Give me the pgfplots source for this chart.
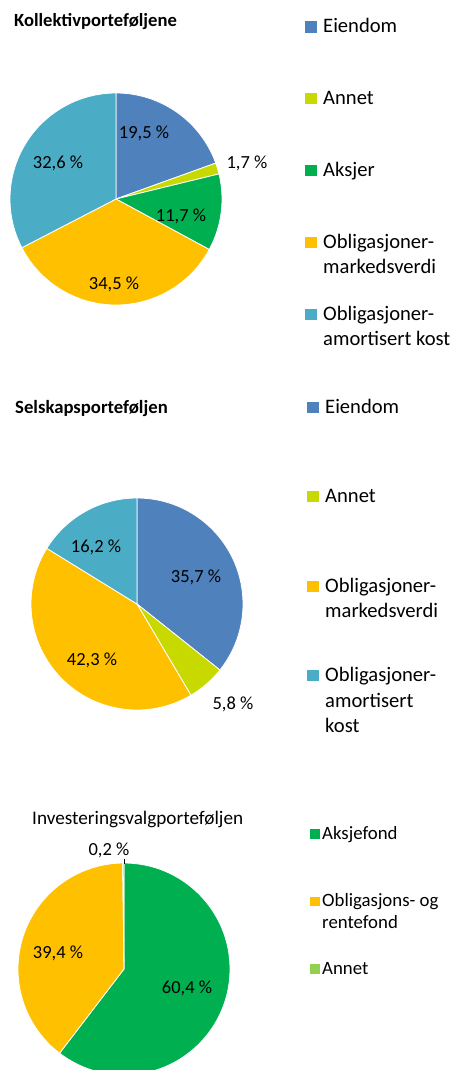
\documentclass[border=0pt]{standalone}
\usepackage{pgfplots}
\pgfplotsset{compat=1.18}
\usepackage{fontspec}
\setmainfont{Carlito}
\definecolor{cblue}{HTML}{4F81BD}
\definecolor{cannet}{HTML}{C8D900}
\definecolor{cgreen}{HTML}{00B050}
\definecolor{cyellow}{HTML}{FFC000}
\definecolor{cteal}{HTML}{4BACC6}
\definecolor{clight}{HTML}{92D050}
% slice: #1 = cumulative share before (%), #2 = share (%), #3 = colour
\newcommand{\slice}[3]{%
  \fill[#3,draw=white,line width=0.8bp] (axis cs:0,0) -- ++({90-3.6*#1}:106bp)
    arc[start angle={90-3.6*#1}, end angle={90-3.6*(#1+#2)}, radius=106bp] -- cycle;}
\pgfplotsset{pie/.style={hide axis, scale only axis, width=254.4bp, height=254.4bp,
  xmin=-1.2, xmax=1.2, ymin=-1.2, ymax=1.2, anchor=center, clip=false}}
\newcommand{\leg}[4]{% x, y baseline, colour, text
  \fill[#3] (#1bp,-#2bp) rectangle ++(11.5bp,11.5bp);
  \node[anchor=base west,inner sep=0pt,font=\fontsize{20.6bp}{26bp}\selectfont] at (#1bp+18bp,-#2bp) {#4};}
\newcommand{\legl}[3]{% x, y baseline, text (continuation line)
  \node[anchor=base west,inner sep=0pt,font=\fontsize{20.6bp}{26bp}\selectfont] at (#1bp+18bp,-#2bp) {#3};}
\newcommand{\lab}[3]{\node[anchor=base,inner sep=0pt,font=\fontsize{18.5bp}{22bp}\selectfont] at (#1bp,-#2bp) {#3};}
\begin{document}
\begin{tikzpicture}
\useasboundingbox (0,0) rectangle (457bp,-1070bp);
\clip (0,0) rectangle (457bp,-1070bp);
% ---------- Kollektivporteføljene ----------
\node[anchor=base west,inner sep=0pt,font=\fontsize{18.6bp}{22bp}\selectfont\bfseries] at (14bp,-26.7bp) {Kollektivporteføljene};
\begin{axis}[pie, at={(116bp,-199bp)}]
\slice{0}{19.5}{cblue}
\slice{19.5}{1.7}{cannet}
\slice{21.2}{11.7}{cgreen}
\slice{32.9}{34.5}{cyellow}
\slice{67.4}{32.6}{cteal}
\end{axis}
\lab{144}{138}{19,5 \%}
\lab{247}{168}{1,7 \%}
\lab{181}{221}{11,7 \%}
\lab{114}{289}{34,5 \%}
\lab{58}{168}{32,6 \%}
\leg{305}{32.7}{cblue}{Eiendom}
\leg{305}{104.3}{cannet}{Annet}
\leg{305}{176}{cgreen}{Aksjer}
\leg{305}{248.3}{cyellow}{Obligasjoner-}
\legl{305}{273.5}{markedsverdi}
\leg{305}{320}{cteal}{Obligasjoner-}
\legl{305}{345}{amortisert kost}
% ---------- Selskapsporteføljen ----------
\node[anchor=base west,inner sep=0pt,font=\fontsize{18.7bp}{22bp}\selectfont\bfseries] at (15bp,-413bp) {Selskapsporteføljen};
\begin{axis}[pie, at={(137bp,-604bp)}]
\slice{0}{35.7}{cblue}
\slice{35.7}{5.8}{cannet}
\slice{41.5}{42.3}{cyellow}
\slice{83.8}{16.2}{cteal}
\end{axis}
\lab{196}{582}{35,7 \%}
\lab{233}{709}{5,8 \%}
\lab{92}{665}{42,3 \%}
\lab{96}{552}{16,2 \%}
\leg{307}{413}{cblue}{Eiendom}
\leg{307}{502}{cannet}{Annet}
\leg{307}{592}{cyellow}{Obligasjoner-}
\legl{307}{617}{markedsverdi}
\leg{307}{681}{cteal}{Obligasjoner-}
\legl{307}{707}{amortisert}
\legl{307}{732.5}{kost}
% ---------- Investeringsvalgporteføljen ----------
\node[anchor=base west,inner sep=0pt,font=\fontsize{19.2bp}{23bp}\selectfont] at (32bp,-824bp) {Investeringsvalgporteføljen};
\begin{axis}[pie, at={(124bp,-969bp)}]
\slice{0}{60.4}{cgreen}
\slice{60.4}{39.4}{cyellow}
\slice{99.8}{0.2}{clight}
\end{axis}
\draw[black,line width=0.8bp] (124bp,-858.5bp) -- (124bp,-864bp);
\lab{109}{855}{0,2 \%}
\lab{58}{958}{39,4 \%}
\lab{187}{993}{60,4 \%}
\begin{scope}[font=\fontsize{18.8bp}{22.5bp}\selectfont]
\fill[cgreen] (310bp,-838.5bp) rectangle ++(9.5bp,9.5bp);
\node[anchor=base west,inner sep=0pt] at (322bp,-839bp) {Aksjefond};
\fill[cyellow] (310bp,-906.2bp) rectangle ++(9.5bp,9.5bp);
\node[anchor=base west,inner sep=0pt] at (322bp,-906.7bp) {Obligasjons- og};
\node[anchor=base west,inner sep=0pt] at (322bp,-928.5bp) {rentefond};
\fill[clight] (310bp,-973.5bp) rectangle ++(9.5bp,9.5bp);
\node[anchor=base west,inner sep=0pt] at (322bp,-974bp) {Annet};
\end{scope}
\end{tikzpicture}
\end{document}
